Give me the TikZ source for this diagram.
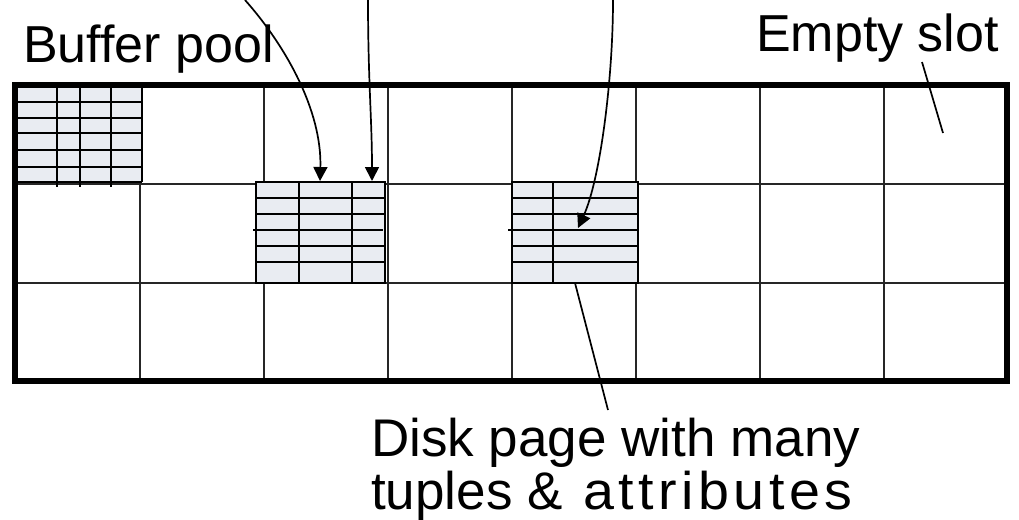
\documentclass[tikz,border=0pt]{standalone}
\usepackage{fontspec}
\setmainfont{Liberation Sans}
\usetikzlibrary{arrows.meta}
\definecolor{pagegray}{RGB}{233,236,242}
\tikzset{
  lbl/.style={inner sep=0pt, anchor=base west, font=\fontsize{52}{58}\selectfont},
  biglbl/.style={inner sep=0pt, anchor=base west, font=\fontsize{53}{58}\selectfont},
  gridline/.style={line width=2.8pt, draw=black!85},
  pageline/.style={line width=2.5pt, draw=black},
  border/.style={line width=6pt, draw=black},
  ptr/.style={line width=1.7pt, -{Triangle[length=14pt,width=14pt]}},
  leader/.style={line width=1.7pt}
}
\begin{document}
\begin{tikzpicture}[x=1pt,y=-1pt]
\useasboundingbox (0,0) rectangle (1019,519);
% grid
\foreach \x in {140,264,388,512,636,760,884}
  \draw[gridline] (\x,85) -- (\x,381);
\foreach \y in {184,283}
  \draw[gridline] (15,\y) -- (1007,\y);
% page 1
\fill[pagegray] (15,85) rectangle (142,182);
\foreach \y in {102,118,150,167,182}
  \draw[pageline] (15,\y) -- (142,\y);
\draw[pageline] (12,133) -- (142,133);
\foreach \x in {57,80,111}
  \draw[pageline] (\x,85) -- (\x,187);
\draw[pageline] (142,85) -- (142,182);
% page 2
\fill[pagegray] (256,182) rectangle (385,283);
\draw[pageline] (256,182) rectangle (385,283);
\foreach \y in {198,214,246,262}
  \draw[pageline] (256,\y) -- (385,\y);
\draw[pageline] (253,230) -- (383,230);
\foreach \x in {299,352}
  \draw[pageline] (\x,182) -- (\x,283);
% page 3
\fill[pagegray] (512,182) rectangle (638,283);
\draw[pageline] (512,182) rectangle (638,283);
\foreach \y in {198,214,246,262}
  \draw[pageline] (512,\y) -- (638,\y);
\draw[pageline] (508,230) -- (638,230);
\draw[pageline] (553,182) -- (553,283);
% outer border
\draw[border] (15,85) rectangle (1007,381);
% labels
\node[lbl] (buffer) at (23,63) {Buffer pool};
\node[lbl] (empty) at (756,52) {Empty slot};
\node[biglbl] (disk) at (371,456) {Disk page with many};
\node[biglbl] (disk2) at (371,509) {tuples \& \hspace{6pt}{\addfontfeature{LetterSpace=8}\scalebox{1.05}[1]{attributes}}};
% connector coordinates
\coordinate (a1s) at (245,0);
\coordinate (a1e) at (320,181);
\coordinate (a2s) at (368,0);
\coordinate (a2e) at (372,181);
\coordinate (a3s) at (613,0);
\coordinate (a3e) at (578,228);
\coordinate (es) at (922,62);
\coordinate (ee) at (943,133);
\coordinate (ds) at (575,283);
\coordinate (de) at (608,410);
% arrows
\draw[ptr] (a1s) .. controls (285,45) and (322,110) .. (a1e);
\draw[ptr] (a2s) .. controls (368,80) and (372,120) .. (a2e);
\draw[ptr] (a3s) .. controls (613,80) and (600,180) .. (a3e);
\draw[leader] (es) -- (ee);
\draw[leader] (ds) -- (de);
\end{tikzpicture}
\end{document}
